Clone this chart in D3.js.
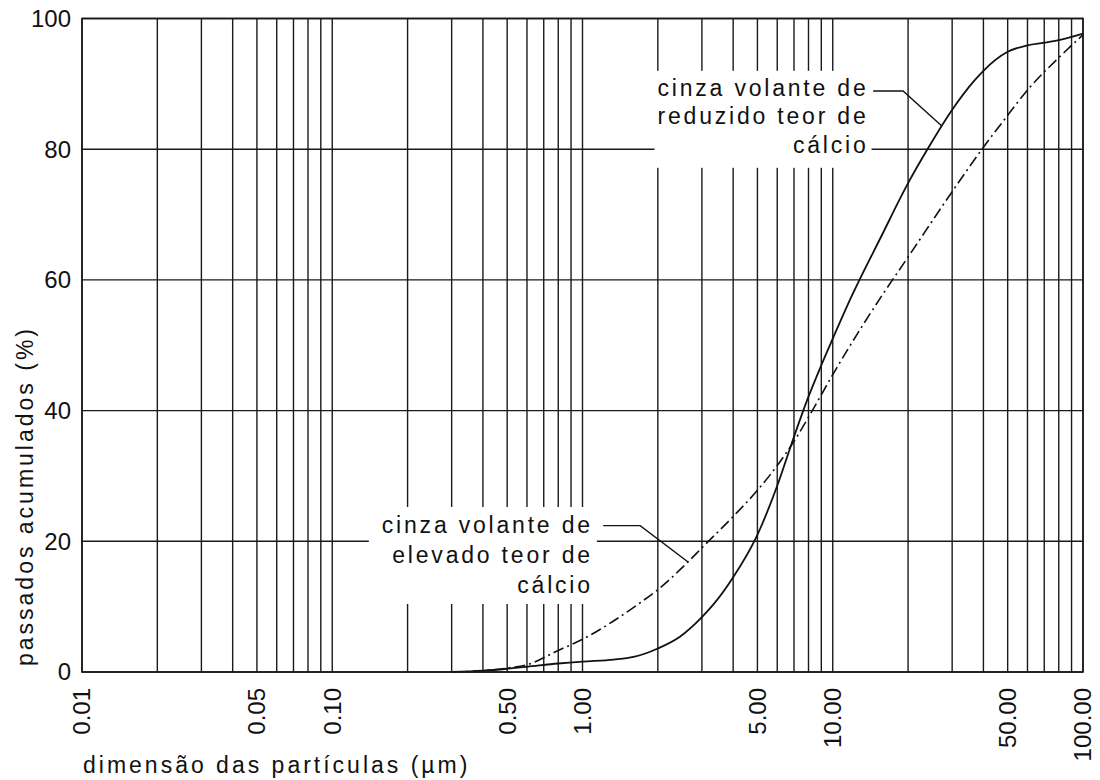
<!DOCTYPE html>
<html>
<head>
<meta charset="utf-8">
<script src="https://cdn.jsdelivr.net/npm/d3@7"></script>
<style>
  body { margin: 0; background: #fff; }
  text { font-family: "Liberation Sans", Arial, sans-serif; fill: #111; }
</style>
</head>
<body>
<div id="chart"></div>
<script>
// particle size (µm) and cumulative passing (%)
const lowCaSize  = [0.3, 0.4, 0.5, 0.6, 0.8, 1.0, 1.33, 1.6, 2.0, 2.45, 3.0, 3.33, 4.0, 5.0, 6.0, 7.0, 7.9, 8.9, 10, 11.9, 15.6, 20, 24, 29.6, 37, 40, 50, 60, 70, 80, 100];
const lowCaPass  = [0, 0.2, 0.5, 0.8, 1.3, 1.6, 1.9, 2.3, 3.6, 5.4, 8.4, 10.3, 14.5, 21, 28.5, 36, 41.6, 46.5, 51, 57.5, 66.6, 74.8, 80.1, 85.7, 90.6, 92, 94.9, 95.9, 96.3, 96.7, 97.7];

const highCaSize = [0.3, 0.4, 0.5, 0.6, 0.8, 1.0, 1.33, 1.7, 2.0, 2.6, 3.0, 4.0, 5.0, 6.0, 7.0, 8.2, 10, 13.3, 15.6, 20, 30, 40, 48, 61.4, 80, 100];
const highCaPass = [0, 0.2, 0.6, 1.1, 3.3, 5.0, 7.8, 10.6, 12.6, 16.6, 19.0, 23.8, 27.8, 31.6, 35.3, 39.7, 45.5, 53.3, 57.4, 63.5, 73.5, 80.3, 84.3, 89.5, 94, 97.5];

const yTicks = [0, 20, 40, 60, 80, 100];
const xTickLabels = [0.01, 0.05, 0.1, 0.5, 1, 5, 10, 50, 100];
const decades = [0.01, 0.1, 1, 10];

const topNote = ["cinza volante de", "reduzido teor de", "cálcio"];
const bottomNote = ["cinza volante de", "elevado teor de", "cálcio"];

const W = 1100, H = 780;
const margin = { top: 18.5, right: 17, bottom: 108, left: 82 };
const width = W - margin.left - margin.right;
const height = H - margin.top - margin.bottom;

const svg = d3.select("#chart").append("svg")
    .attr("width", W)
    .attr("height", H);

const g = svg.append("g")
    .attr("transform", `translate(${margin.left},${margin.top})`);

const x = d3.scaleLog().domain([0.01, 100]).range([0, width]);
const y = d3.scaleLinear().domain([0, 100]).range([height, 0]);

// vertical grid: 1..9 in every decade, plus the last one
const gridX = [];
decades.forEach(d => { for (let k = 1; k <= 9; k++) gridX.push(+(d * k).toPrecision(3)); });
gridX.push(100);

g.selectAll(".vgrid")
    .data(gridX)
    .enter().append("line")
    .attr("class", "vgrid")
    .attr("x1", d => x(d)).attr("x2", d => x(d))
    .attr("y1", 0).attr("y2", height)
    .attr("stroke", "#1a1a1a")
    .attr("stroke-width", 1.4);

g.selectAll(".hgrid")
    .data(yTicks)
    .enter().append("line")
    .attr("class", "hgrid")
    .attr("x1", 0).attr("x2", width)
    .attr("y1", d => y(d)).attr("y2", d => y(d))
    .attr("stroke", "#1a1a1a")
    .attr("stroke-width", 1.4);

// y tick labels
g.selectAll(".ylab")
    .data(yTicks)
    .enter().append("text")
    .attr("class", "ylab")
    .attr("x", -11)
    .attr("y", d => y(d))
    .attr("dy", "0.35em")
    .attr("text-anchor", "end")
    .style("font-size", "24px")
    .text(d => d);

// x tick labels, rotated
g.selectAll(".xlab")
    .data(xTickLabels)
    .enter().append("text")
    .attr("class", "xlab")
    .attr("transform", d => `translate(${x(d)},${height + 16}) rotate(-90)`)
    .attr("dy", "0.35em")
    .attr("text-anchor", "end")
    .style("font-size", "24px")
    .text(d => d3.format(".2f")(d));

// axis titles
svg.append("text")
    .attr("x", 83)
    .attr("y", 773)
    .style("font-size", "23px")
    .style("letter-spacing", "3px")
    .text("dimensão das partículas (µm)");

svg.append("text")
    .attr("transform", `translate(33,496) rotate(-90)`)
    .attr("text-anchor", "middle")
    .style("font-size", "23px")
    .style("letter-spacing", "3px")
    .text("passados acumulados (%)");

// curves
const line = d3.line()
    .x(d => x(d[0]))
    .y(d => y(d[1]))
    .curve(d3.curveMonotoneX);

g.append("path")
    .datum(highCaSize.map((s, i) => [s, highCaPass[i]]))
    .attr("fill", "none")
    .attr("stroke", "#111")
    .attr("stroke-width", 1.6)
    .attr("stroke-dasharray", "11,4,2,4")
    .attr("d", line);

g.append("path")
    .datum(lowCaSize.map((s, i) => [s, lowCaPass[i]]))
    .attr("fill", "none")
    .attr("stroke", "#111")
    .attr("stroke-width", 1.8)
    .attr("d", line);

// annotations: white box behind text, then a leader line to the curve
function note(lines, at, spacing, leader, pad) {
    const t = g.append("g");
    const box = t.append("rect").attr("fill", "#fff");
    const txt = t.append("text")
        .attr("text-anchor", "end")
        .style("font-size", "23px")
        .style("letter-spacing", "2.8px");
    lines.forEach((s, i) => {
        txt.append("tspan")
            .attr("x", x(at[0]))
            .attr("y", y(at[1]) + i * spacing)
            .attr("dy", "0.35em")
            .text(s);
    });
    const bb = txt.node().getBBox();
    box.attr("x", bb.x - pad[0])
        .attr("y", bb.y - pad[1])
        .attr("width", bb.width + pad[0] + pad[2])
        .attr("height", bb.height + pad[1] + pad[3]);
    g.append("path")
        .datum(leader)
        .attr("fill", "none")
        .attr("stroke", "#111")
        .attr("stroke-width", 1.4)
        .attr("d", d3.line().x(d => x(d[0])).y(d => y(d[1])));
}

note(topNote, [13.9, 89.4], 28.5, [[14.5, 88.9], [19.1, 88.9], [27.2, 83.6]], [3, 4, 3, 10]);
note(bottomNote, [1.1, 22.5], 30, [[1.21, 22.4], [1.70, 22.4], [2.65, 16.8]], [13, 5, 4, 6]);

// frame
g.append("rect")
    .attr("width", width)
    .attr("height", height)
    .attr("fill", "none")
    .attr("stroke", "#1a1a1a")
    .attr("stroke-width", 1.6);
</script>
</body>
</html>
